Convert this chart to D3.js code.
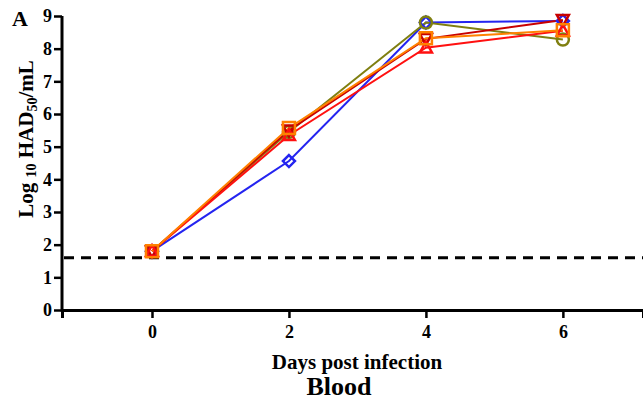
<!DOCTYPE html>
<html><head><meta charset="utf-8">
<script src="https://cdn.jsdelivr.net/npm/d3@7"></script>
<style>body{margin:0;background:#fff}svg{display:block}svg text{font-family:"Liberation Serif","DejaVu Serif",serif !important;font-weight:bold}</style>
</head><body>
<svg id="c" width="643" height="401"></svg>
<script>
const days = [0, 2, 4, 6];
const xTicks = [0, 2, 4, 6];
const yTicks = [0,1,2,3,4,5,6,7,8,9];
const detectionLimit = 1.6;
const blueDiamond = [1.8, 4.56, 8.8, 8.85];
const oliveCircle = [1.8, 5.45, 8.8, 8.28];
const darkRedTriangleDown = [1.8, 5.5, 8.3, 8.88];
const redTriangleUp = [1.8, 5.35, 8.03, 8.55];
const orangeSquare = [1.8, 5.57, 8.32, 8.56];
const seriesList = [
  {name:"blue", values: blueDiamond, color:"#2424f0", shape:"diamond"},
  {name:"olive", values: oliveCircle, color:"#7f7f10", shape:"circle"},
  {name:"darkred", values: darkRedTriangleDown, color:"#c80000", shape:"tdown"},
  {name:"red", values: redTriangleUp, color:"#ff1010", shape:"tup"},
  {name:"orange", values: orangeSquare, color:"#ff8000", shape:"square"}
];

const svg = d3.select("#c");
const x = d3.scaleLinear().domain([-1.314, 7.17]).range([62, 643]);
const y = d3.scaleLinear().domain([0, 9]).range([310, 16]);

// dashed limit line
svg.append("line").attr("x1", 64).attr("x2", 643)
  .attr("y1", y(detectionLimit)).attr("y2", y(detectionLimit))
  .attr("stroke", "#000").attr("stroke-width", 3).attr("stroke-dasharray", "10,7");

// axes
const xAxis = svg.append("g").attr("transform", `translate(0,${y(0)})`)
  .call(d3.axisBottom(x).tickValues(xTicks).tickSizeOuter(0).tickSize(8).tickPadding(7));
const yAxis = svg.append("g").attr("transform", `translate(${x(-1.314)},0)`)
  .call(d3.axisLeft(y).tickValues(yTicks).tickSizeOuter(0).tickSize(8).tickPadding(2));
[xAxis, yAxis].forEach(g => {
  g.attr("font-family", "Liberation Serif").attr("font-size", 18);
  g.select(".domain").attr("stroke-width", 3);
  g.selectAll(".tick line").attr("stroke-width", 2.5);
  g.selectAll(".tick text").attr("font-family", "Liberation Serif").style("font-size", "18px").style("font-weight", "bold").attr("fill", "#000");
});
yAxis.select(".domain").attr("d", `M0,${y(9)}V${y(0)+1.5}`);

// lines
const line = d3.line().x((d,i) => x(days[i])).y(d => y(d));
seriesList.forEach(s => {
  svg.append("path").datum(s.values).attr("d", line)
    .attr("fill", "none").attr("stroke", s.color).attr("stroke-width", 2);
});

// markers
const r = 6;
function markerPath(shape) {
  if (shape === "diamond") return `M0,${-r}L${r},0L0,${r}L${-r},0Z`;
  if (shape === "square") return `M${-r},${-r}H${r}V${r}H${-r}Z`;
  if (shape === "tup") return `M0,${-r}L${r},${r*0.8}H${-r}Z`;
  if (shape === "tdown") return `M0,${r}L${r},${-r*0.8}H${-r}Z`;
  return null;
}
seriesList.forEach(s => {
  const g = svg.append("g");
  s.values.forEach((v,i) => {
    if (s.shape === "circle") {
      g.append("circle").attr("cx", x(days[i])).attr("cy", y(v)).attr("r", r)
        .attr("fill", "none").attr("stroke", s.color).attr("stroke-width", 2.5);
    } else {
      g.append("path").attr("d", markerPath(s.shape))
        .attr("transform", `translate(${x(days[i])},${y(v)})`)
        .attr("fill", "none").attr("stroke", s.color).attr("stroke-width", 2.5);
    }
  });
});

// labels
svg.append("text").attr("x", 12).attr("y", 26).style("font-size", "22px").text("A");
const yl = svg.append("text").attr("transform", "translate(33,139) rotate(-90)")
  .attr("text-anchor", "middle").style("font-size", "21px");
yl.append("tspan").text("Log ");
yl.append("tspan").style("font-size", "14px").attr("dy", 3).text("10");
yl.append("tspan").attr("dy", -3).text(" HAD");
yl.append("tspan").style("font-size", "14px").attr("dy", 4).text("50");
yl.append("tspan").attr("dy", -4).text("/mL");
svg.append("text").attr("x", 357).attr("y", 369).attr("text-anchor", "middle").style("font-size", "21px").text("Days post infection");
svg.append("text").attr("x", 339).attr("y", 395).attr("text-anchor", "middle").style("font-size", "26px").text("Blood");
</script>
</body></html>
